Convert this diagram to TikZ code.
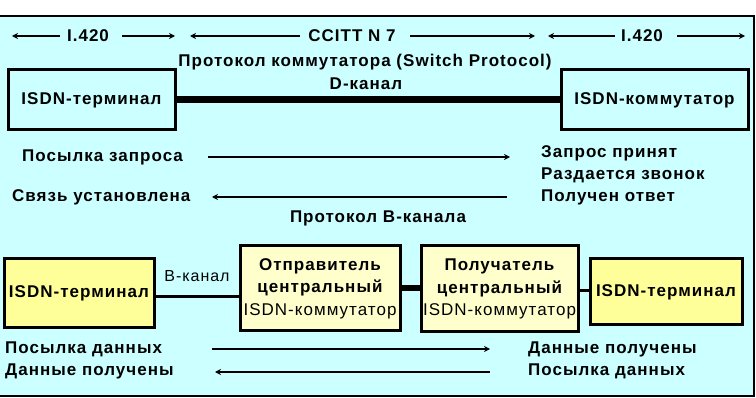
\documentclass[tikz,border=0pt]{standalone}
\usepackage{fontspec}
\setmainfont{Liberation Sans}[LetterSpace=6]
\usetikzlibrary{arrows.meta}
\definecolor{bg}{HTML}{CCFFFF}
\definecolor{termy}{HTML}{FFFF99}
\definecolor{swy}{HTML}{FFFFCC}
\tikzset{
  lbl/.style={inner sep=0pt, font=\bfseries\fontsize{17}{19}\selectfont},
  box/.style={draw, line width=3pt, inner sep=0pt, font=\bfseries\fontsize{17}{19}\selectfont},
  arr/.style={line width=1.6pt, -{Stealth[length=6pt,width=6pt]}},
  larr/.style={line width=1.6pt, {Stealth[length=6pt,width=6pt]}-},
}
\begin{document}
\begin{tikzpicture}[x=1pt,y=-1pt]
\useasboundingbox (0,0) rectangle (756,398);
\fill[white] (0,0) rectangle (756,398);
\draw[fill=bg, line width=1.5pt] (-5,16) rectangle (754,396);

% top scale
\node[lbl] (i1) at (88,36) {I.420};
\node[lbl] (cc) at (352,36) {CCITT N 7};
\node[lbl] (i2) at (642,36) {I.420};
\coordinate (a1) at (12,36); \coordinate (a2) at (60,36);
\coordinate (a3) at (122,36); \coordinate (a4) at (175,36);
\coordinate (a5) at (190,36); \coordinate (a6) at (300,36);
\coordinate (a7) at (410,36); \coordinate (a8) at (535,36);
\coordinate (a9) at (548,36); \coordinate (a10) at (615,36);
\coordinate (a11) at (677,36); \coordinate (a12) at (745,36);
\draw[larr] (a1) -- (a2);
\draw[arr] (a3) -- (a4);
\draw[larr] (a5) -- (a6);
\draw[arr] (a7) -- (a8);
\draw[larr] (a9) -- (a10);
\draw[arr] (a11) -- (a12);

\node[lbl] (sp) at (365,62) {Протокол коммутатора (Switch Protocol)};
\node[lbl] (dk) at (366,84) {D-канал};

% top boxes
\node[box, minimum width=167pt, minimum height=60pt] (tt) at (91.5,100) {ISDN-терминал};
\node[box, minimum width=187pt, minimum height=60pt] (ts) at (654.5,100) {ISDN-коммутатор};
\draw[line width=7pt] (tt.east) -- (ts.west);

% messages
\node[lbl, anchor=west] (m1) at (22,157) {Посылка запроса};
\node[lbl, anchor=west] (m2) at (12,197) {Связь установлена};
\node[lbl, anchor=west] (r1) at (541,153) {Запрос принят};
\node[lbl, anchor=west] (r2) at (541,175) {Раздается звонок};
\node[lbl, anchor=west] (r3) at (541,197) {Получен ответ};
\coordinate (b1) at (208,157); \coordinate (b2) at (510,157);
\coordinate (b3) at (212,197); \coordinate (b4) at (507,197);
\draw[arr] (b1) -- (b2);
\draw[larr] (b3) -- (b4);

\node[lbl] (bp) at (378,218) {Протокол B-канала};

% bottom boxes
\node[box, fill=termy, minimum width=150pt, minimum height=69pt] (lt) at (79,293.5) {ISDN-терминал};
\node[box, fill=swy, minimum width=160pt, minimum height=85pt, align=center,
      font=\bfseries\fontsize{17}{22.5}\selectfont] (snd) at (320,288.5)
      {Отправитель\\центральный\\{\mdseries ISDN-коммутатор}};
\node[box, fill=swy, minimum width=157pt, minimum height=86pt, align=center,
      font=\bfseries\fontsize{17}{22.5}\selectfont] (rcv) at (499.5,289)
      {Получатель\\центральный\\{\mdseries ISDN-коммутатор}};
\node[box, fill=termy, minimum width=152pt, minimum height=66pt] (rt) at (666,292) {ISDN-терминал};

\coordinate (y1) at (0,297);
\coordinate (y2) at (0,288);
\coordinate (y3) at (0,291);
\draw[line width=3pt] (lt.east |- y1) -- (snd.west |- y1);
\draw[line width=6pt] (snd.east |- y2) -- (rcv.west |- y2);
\draw[line width=3pt] (rcv.east |- y3) -- (rt.west |- y3);
\node[inner sep=0pt, font=\fontsize{16}{18}\selectfont] (bk) at (197,276) {B-канал};

% bottom messages
\node[lbl, anchor=west] (d1) at (5,349) {Посылка данных};
\node[lbl, anchor=west] (d2) at (5,371) {Данные получены};
\node[lbl, anchor=west] (d3) at (528,349) {Данные получены};
\node[lbl, anchor=west] (d4) at (528,371) {Посылка данных};
\coordinate (c1) at (212,349); \coordinate (c2) at (490,349);
\coordinate (c3) at (215,372); \coordinate (c4) at (490,372);
\draw[arr] (c1) -- (c2);
\draw[larr] (c3) -- (c4);
\end{tikzpicture}
\end{document}
